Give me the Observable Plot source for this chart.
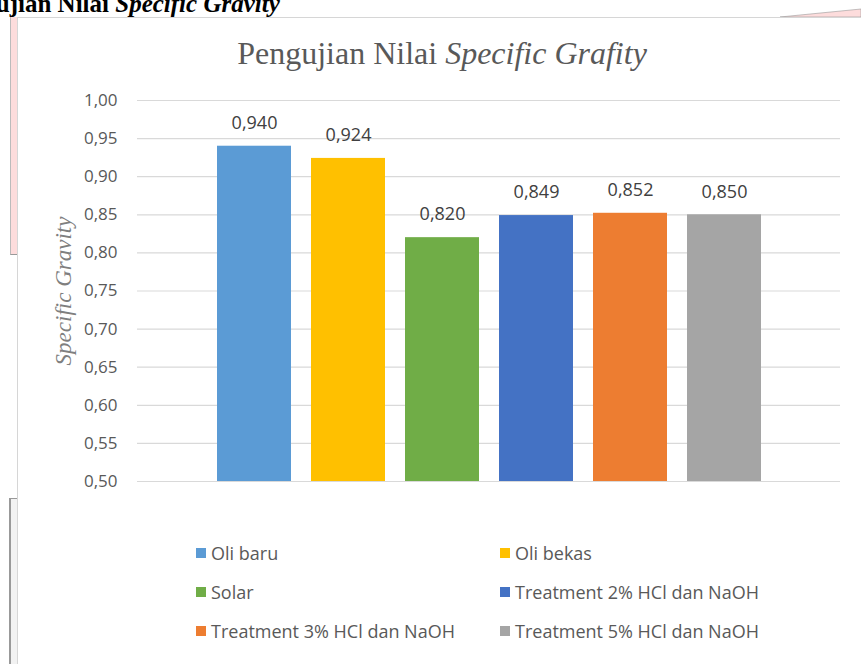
<!DOCTYPE html>
<html>
<head>
<meta charset="utf-8">
<script src="https://cdn.jsdelivr.net/npm/d3@7"></script>
<script src="https://cdn.jsdelivr.net/npm/@observablehq/plot@0.6"></script>
<style>
  html, body { margin: 0; padding: 0; background: #fff; }
  #page { position: relative; width: 861px; height: 664px; overflow: hidden; background: #fff; }
  .doc-heading { position: absolute; left: -57px; top: -10px; font-family: "Liberation Serif", "Times New Roman", serif; font-weight: bold; font-size: 25px; color: #000; white-space: nowrap; }
  .pink-strip { position: absolute; left: 10px; top: 17px; width: 6px; height: 237px; background: #fddcdc; border-left: 1px solid #bbb; border-bottom: 1px solid #999; }
  .gray-box { position: absolute; left: 9px; top: 498px; width: 7px; height: 180px; background: #f2f2f2; border-left: 2px solid #999; border-top: 1px solid #999; }
  .chart-box { position: absolute; left: 17px; top: 17px; width: 900px; height: 700px; background: #fff; border-left: 1px solid #d6d6d6; border-top: 1px solid #d6d6d6; }
  .title { position: absolute; left: 0; width: 884px; top: 35px; text-align: center; font-family: "Liberation Serif", "Times New Roman", serif; font-size: 32px; color: #595959; }
  #chart { position: absolute; left: 0; top: 0; }
  .legend { position: absolute; left: 196px; top: 540px; font-family: "Open Sans", sans-serif; font-size: 18px; color: #595959; }
  .legend .item { position: absolute; white-space: nowrap; display: flex; align-items: center; height: 26px; }
  .legend .sw { width: 10px; height: 10px; margin-right: 5px; }
</style>
</head>
<body>
<div id="page">
  <div class="doc-heading">Pengujian Nilai <i>Specific Gravity</i></div>
  <div class="pink-strip"></div>
  <div class="gray-box"></div>
  <svg style="position:absolute;left:0;top:0" width="861" height="30"><polygon points="780,17 861,9 861,17" fill="#fddcdc" stroke="#999" stroke-width="0.6"/></svg>
  <div class="chart-box"></div>
  <div class="title">Pengujian Nilai <i>Specific Grafity</i></div>
  <div id="chart"></div>
  <div class="legend" id="legend"></div>
</div>
<script>
const categories = ["Oli baru", "Oli bekas", "Solar", "Treatment 2% HCl dan NaOH", "Treatment 3% HCl dan NaOH", "Treatment 5% HCl dan NaOH"];
const values = [0.940, 0.924, 0.820, 0.849, 0.852, 0.850];
const colors = ["#5b9bd5", "#ffc000", "#70ad47", "#4472c4", "#ed7d31", "#a5a5a5"];
const yTicks = [0.50, 0.55, 0.60, 0.65, 0.70, 0.75, 0.80, 0.85, 0.90, 0.95, 1.00];
const yLabel = "Specific Gravity";

const data = categories.map((name, i) => ({name, value: values[i]}));
const comma = (v, n) => v.toFixed(n).replace(".", ",");

const chart = Plot.plot({
  width: 861,
  height: 500,
  marginTop: 100,
  marginBottom: 19,
  marginLeft: 137,
  marginRight: 21,
  style: {fontFamily: "Open Sans, sans-serif", fontSize: "17px", color: "#595959", background: "transparent", overflow: "visible"},
  x: {domain: categories, range: [207, 771], paddingInner: 0.21, paddingOuter: 0.105, axis: null},
  y: {domain: [0.5, 1.0]},
  color: {domain: categories, range: colors},
  marks: [
    Plot.gridY(yTicks, {stroke: "#d9d9d9", strokeOpacity: 1, strokeWidth: 1.2}),
    Plot.axisY(yTicks, {tickSize: 0, tickPadding: 20, tickFormat: d => comma(d, 2), label: null, fill: "#595959", fontSize: 17}),
    Plot.barY(data, {x: "name", y1: 0.5, y2: "value", fill: "name"}),
    Plot.text(data, {x: "name", y: "value", text: d => comma(d.value, 3), dy: -23, fill: "#404040", fontSize: 18}),
    Plot.text([yLabel], {frameAnchor: "left", textAnchor: "middle", dx: -74, rotate: -90, text: d => d, fontFamily: "Liberation Serif, serif", fontStyle: "italic", fontSize: 23, fill: "#7f7f7f"})
  ]
});
document.getElementById("chart").appendChild(chart);

const legendPos = [[0, 0], [304, 0], [0, 39], [304, 39], [0, 78], [304, 78]];
const legend = document.getElementById("legend");
categories.forEach((c, i) => {
  const item = document.createElement("div");
  item.className = "item";
  item.style.left = legendPos[i][0] + "px";
  item.style.top = legendPos[i][1] + "px";
  item.innerHTML = `<span class="sw" style="background:${colors[i]}"></span><span>${c}</span>`;
  legend.appendChild(item);
});
</script>
</body>
</html>
